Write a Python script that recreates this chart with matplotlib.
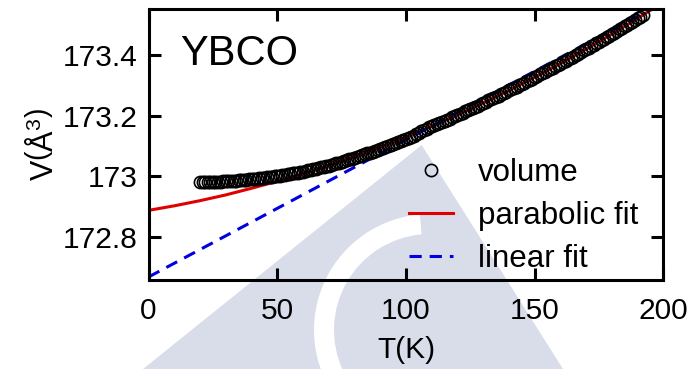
import matplotlib
matplotlib.use("Agg")
import matplotlib.pyplot as plt
from matplotlib.patches import Polygon, Wedge
from matplotlib.ticker import FuncFormatter

plt.rcParams["font.family"] = ["Liberation Sans", "DejaVu Sans"]
plt.rcParams["mathtext.fontset"] = "custom"
plt.rcParams["mathtext.rm"] = "Liberation Sans"
plt.rcParams["mathtext.it"] = "Liberation Sans"

# measured cell volume (every 1 K, 20 K .. 192 K)
temp = list(range(20, 193))
volume = [
    172.980, 172.980, 172.980, 172.981, 172.981, 172.981, 172.981, 172.982, 172.982, 172.983,
    172.983, 172.984, 172.984, 172.985, 172.985, 172.986, 172.986, 172.987, 172.988, 172.989,
    172.990, 172.991, 172.992, 172.993, 172.994, 172.995, 172.996, 172.997, 172.998, 172.999,
    173.000, 173.001, 173.003, 173.004, 173.006, 173.007, 173.009, 173.010, 173.012, 173.013,
    173.015, 173.017, 173.019, 173.021, 173.023, 173.025, 173.027, 173.029, 173.031, 173.033,
    173.035, 173.037, 173.040, 173.042, 173.045, 173.047, 173.050, 173.052, 173.055, 173.057,
    173.060, 173.063, 173.066, 173.069, 173.072, 173.075, 173.078, 173.081, 173.084, 173.087,
    173.090, 173.093, 173.096, 173.099, 173.102, 173.105, 173.109, 173.112, 173.115, 173.118,
    173.122, 173.126, 173.130, 173.134, 173.139, 173.143, 173.148, 173.152, 173.157, 173.161,
    173.165, 173.168, 173.172, 173.175, 173.179, 173.183, 173.187, 173.190, 173.194, 173.198,
    173.202, 173.206, 173.210, 173.214, 173.218, 173.222, 173.226, 173.229, 173.233, 173.238,
    173.242, 173.246, 173.250, 173.254, 173.258, 173.262, 173.266, 173.270, 173.275, 173.279,
    173.283, 173.287, 173.292, 173.296, 173.300, 173.304, 173.309, 173.313, 173.318, 173.322,
    173.327, 173.331, 173.336, 173.340, 173.345, 173.349, 173.354, 173.358, 173.363, 173.367,
    173.372, 173.376, 173.381, 173.386, 173.391, 173.395, 173.400, 173.405, 173.410, 173.415,
    173.420, 173.424, 173.429, 173.434, 173.439, 173.444, 173.449, 173.454, 173.459, 173.464,
    173.469, 173.474, 173.479, 173.485, 173.490, 173.495, 173.500, 173.505, 173.510, 173.516,
    173.521, 173.526, 173.532,
]

# parabolic fit, sampled every 10 K
fit_t = list(range(0, 201, 10))
parab_fit = [172.887, 172.902, 172.919, 172.938, 172.960, 172.983, 173.008, 173.035,
             173.065, 173.096, 173.129, 173.165, 173.202, 173.242, 173.283, 173.327,
             173.372, 173.420, 173.469, 173.521, 173.575]

# linear fit end points
lin_t = [0, 200]
lin_fit = [172.667, 173.573]

fig = plt.figure(figsize=(6.91, 3.69), dpi=100)

# faint watermark behind the plot (pixel coordinates)
bg = fig.add_axes([0, 0, 1, 1], zorder=0)
bg.set_xlim(0, 691)
bg.set_ylim(0, 369)
bg.axis("off")
tri = Polygon([(421.7, 224), (143, 0), (563, 0)], closed=True,
              facecolor="#d9ddea", edgecolor="none")
bg.add_patch(tri)
ring = Wedge((430, 39), 116, 95, 205, width=20, facecolor="white", edgecolor="none")
bg.add_patch(ring)
ring.set_clip_path(tri)

ax = fig.add_axes([0.215, 0.2412, 0.745, 0.7344], zorder=1)
ax.patch.set_alpha(0)

ax.plot(fit_t, parab_fit, color="#e00000", lw=2.2, label="parabolic fit", zorder=2)
ax.plot(lin_t, lin_fit, color="#0000e0", lw=2.2, linestyle=(0, (4, 2.6)),
        label="linear fit", zorder=2)
ax.plot(temp, volume, linestyle="none", marker="o", markersize=8.8,
        markerfacecolor="none", markeredgecolor="black", markeredgewidth=1.2,
        label="volume", zorder=3)

ax.set_xlim(0, 200)
ax.set_ylim(172.657, 173.552)
ax.set_xticks([0, 50, 100, 150, 200])
ax.set_yticks([172.8, 173.0, 173.2, 173.4])
ax.yaxis.set_major_formatter(FuncFormatter(lambda v, p: "%g" % round(v, 1)))

for s in ax.spines.values():
    s.set_linewidth(2.2)
ax.tick_params(direction="in", length=8.5, width=2.2, labelsize=21.5,
               top=True, right=True, pad=8)
ax.tick_params(axis="x", pad=12)

ax.set_xlabel("T(K)", fontsize=21.5, labelpad=8)
ax.set_ylabel("V$\\left(\\mathrm{\\AA}^{3}\\right)$", fontsize=22, labelpad=2)

ax.text(12.2, 173.366, "YBCO", fontsize=30, va="baseline", ha="left")

h, l = ax.get_legend_handles_labels()
order = [2, 0, 1]
ax.legend([h[i] for i in order], [l[i] for i in order], loc="upper left",
          bbox_to_anchor=(0.506, 0.45), frameon=False, fontsize=22.5,
          handlelength=1.4, handletextpad=0.8, labelspacing=0.42,
          borderpad=0, borderaxespad=0)

fig.savefig("out.png", dpi=100)
